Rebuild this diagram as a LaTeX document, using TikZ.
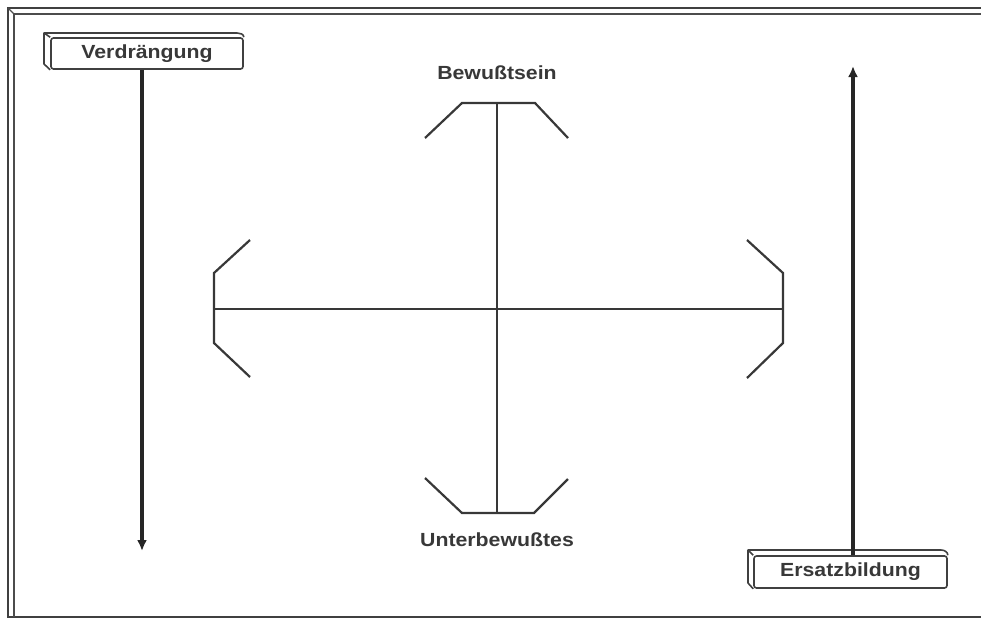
\documentclass[tikz,border=0pt]{standalone}
\usepackage{fontspec}
\setmainfont{Liberation Sans}
\newfontfamily\lblfont[FakeStretch=1.12]{Liberation Sans}
\usetikzlibrary{arrows.meta}
\begin{document}
\begin{tikzpicture}[x=1pt,y=-1pt,
  crossline/.style={line width=2.2pt, draw=black!78, line join=miter},
  lbl/.style={font=\lblfont\fontsize{19}{19}\selectfont\bfseries, text=black!78, inner sep=0pt},
  face/.style={draw=black!75, line width=1.6pt, rounded corners=2.5pt, minimum width=192pt, minimum height=31pt, font=\lblfont\fontsize{19}{19}\selectfont\bfseries, text=black!78},
  boxline/.style={line width=1.6pt, draw=black!75, line join=round},
  arr/.style={line width=3.2pt, draw=black!85, -{Latex[length=11pt,width=10pt]}}]
\useasboundingbox (0,0) rectangle (981,619);
% frame
\draw[line width=2.4pt, black!75] (992,8) -- (8,8) -- (8,617) -- (992,617);
\draw[line width=2pt, black!70] (992,14) -- (14,14) -- (14,617);
\draw[line width=1.2pt, black!70] (8,8) -- (14,14);
% label boxes
\node[face] (verd) at (147,53.5) {Verdrängung};
\draw[boxline] (verd.north west) -- (44,33) -- (237,33) to[out=0,in=90] (verd.north east);
\draw[boxline] (44,33) -- (44,64) -- (verd.south west);
\node[face, minimum width=193pt, minimum height=32pt] (ersatz) at (850.5,572) {Ersatzbildung};
\draw[boxline] (ersatz.north west) -- (748,550) -- (941,550) to[out=0,in=90] (ersatz.north east);
\draw[boxline] (748,550) -- (748,583) -- (ersatz.south west);
% arrows
\coordinate (vend) at (142,551);
\draw[arr] (vend |- verd.south) -- (vend);
\coordinate (eend) at (853,66);
\draw[arr] (eend |- ersatz.north) -- (eend);
% cross
\coordinate (ctop) at (497,103);
\coordinate (cbot) at (497,513);
\coordinate (cleft) at (214,309);
\coordinate (cright) at (783,309);
\draw[crossline] (ctop) -- (cbot);
\draw[crossline] (cleft) -- (cright);
\draw[crossline] (425,138) -- (462,103) -- (535,103) -- (568,138);
\draw[crossline] (425,478) -- (462,513) -- (534,513) -- (568,479);
\draw[crossline] (250,240) -- (214,273) -- (214,343) -- (250,377);
\draw[crossline] (747,240) -- (783,273) -- (783,343) -- (747,378);
\node[lbl] (bew) at (497,73) {Bewußtsein};
\node[lbl] (unter) at (497,540) {Unterbewußtes};
\end{tikzpicture}
\end{document}
